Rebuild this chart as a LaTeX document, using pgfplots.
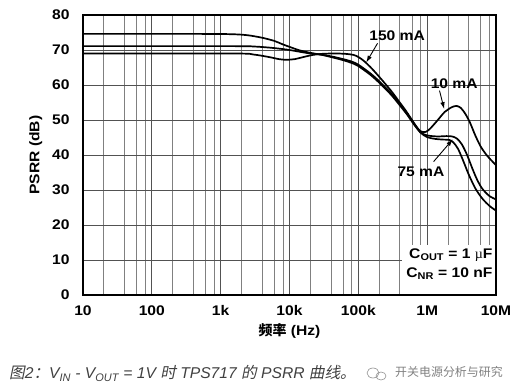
\documentclass[border=0pt]{standalone}
\usepackage{fontspec}
\setmainfont{Liberation Sans}[FakeStretch=1.12]
\newfontfamily\cjk{Noto Sans CJK SC}
\newfontfamily\cjkit{Noto Sans CJK SC}[FakeSlant=0.2]
\newfontfamily\capfont{Liberation Sans}
\usepackage{pgfplots}
\pgfplotsset{compat=1.18}
\usetikzlibrary{arrows.meta}
\pgfplotstableread{
f db
10 74.6
500 74.6
1500 74.5
2500 74.2
4000 73.5
6000 72.6
8000 71.6
10000 70.9
14000 69.9
20000 69.2
28000 68.7
40000 68.2
60000 67.4
80000 66.7
100000 65.8
150000 63.3
200000 61.1
300000 57.6
400000 54.6
500000 52.1
650000 48.9
800000 46.8
950000 46.6
1100000 47.5
1400000 49.8
1800000 52.3
2300000 53.7
2700000 54.0
3100000 53.4
3600000 51.7
4200000 49.2
5000000 45.6
6000000 42.4
7500000 39.7
10000000 37.1
}\tenmA
\pgfplotstableread{
f db
10 71.1
1500 71.1
3000 71.0
5000 70.7
7000 70.4
10000 70.0
15000 69.4
20000 69.0
28000 68.7
40000 68.0
60000 67.1
80000 66.3
100000 65.4
150000 62.9
200000 60.7
300000 57.2
400000 54.2
500000 51.8
650000 48.6
800000 46.4
1000000 45.1
1300000 44.6
1700000 44.4
2100000 44.3
2400000 43.6
2800000 41.8
3300000 38.6
4000000 34.5
5000000 30.5
6300000 27.6
8000000 25.5
10000000 24.1
}\sevfivemA
\pgfplotstableread{
f db
10 69.0
1500 69.0
3000 68.7
5000 68.0
7000 67.4
9000 67.2
12000 67.4
16000 68.0
22000 68.6
30000 68.9
45000 69.0
65000 68.9
85000 68.6
100000 68.0
120000 66.9
150000 65.1
200000 62.4
300000 58.3
400000 55.0
500000 52.4
650000 49.0
800000 46.5
1000000 45.6
1400000 45.3
1900000 45.4
2300000 45.3
2700000 44.7
3200000 43.0
3800000 40.0
4500000 36.3
5300000 33.0
6300000 30.4
8000000 28.3
10000000 27.3
}\onefiftymA
\begin{document}
\begin{tikzpicture}
\begin{axis}[name=ax, xmode=log, scale only axis, width=413bp, height=280bp,
  xmin=10, xmax=1e7, ymin=0, ymax=80,
  ytick={0,10,...,80},
  xtick={10,100,1000,10000,100000,1000000,10000000},
  xticklabels={10,100,1k,10k,100k,1M,10M},
  minor xtick={20,40,60,80,200,400,600,800,2000,4000,6000,8000,20000,40000,60000,80000,200000,400000,600000,800000,2000000,4000000,6000000,8000000},
  grid=both,
  major grid style={black!68, line width=0.75bp},
  minor grid style={black!50, line width=0.6bp},
  axis line style={line width=1.4bp},
  tick style={draw=none},
  /pgf/number format/assume math mode=true,
  ticklabel style={font=\bfseries\fontsize{14}{16}\selectfont},
  yticklabel style={xshift=-10bp},
  xticklabel style={yshift=-7bp},
  xlabel={{\cjk\bfseries 频率} (Hz)},
  ylabel={PSRR (dB)},
  label style={font=\bfseries\fontsize{14}{16}\selectfont},
  xlabel style={yshift=-1bp},
  ylabel style={yshift=3bp},
  clip=false,
]
\addplot[black, line width=1.7bp, smooth, tension=0.5] table[x=f,y=db] {\tenmA};
\addplot[black, line width=1.7bp, smooth, tension=0.5] table[x=f,y=db] {\sevfivemA};
\addplot[black, line width=1.7bp, smooth, tension=0.5] table[x=f,y=db] {\onefiftymA};
% annotation box
\fill[white] (rel axis cs:0.772,0.003) rectangle (rel axis cs:0.997,0.179);
\draw[line width=1.4bp] (rel axis cs:0.75,0) -- (rel axis cs:1,0) -- (rel axis cs:1,0.2);
\node[anchor=base east, font=\bfseries\fontsize{14}{16}\selectfont, inner sep=0pt] at (rel axis cs:0.992,0.130) {C\textsubscript{OUT} = 1 {\fontspec{Liberation Serif}\mdseries µ}F};
\node[anchor=base east, font=\bfseries\fontsize{14}{16}\selectfont, inner sep=0pt] at (rel axis cs:0.992,0.062) {C\textsubscript{NR} = 10 nF};
% labels
\node[font=\bfseries\fontsize{14}{16}\selectfont] at (axis cs:366000,74.0) {150 mA};
\node[font=\bfseries\fontsize{14}{16}\selectfont] at (axis cs:2470000,60.4) {10 mA};
\node[font=\bfseries\fontsize{14}{16}\selectfont] at (axis cs:813000,35.2) {75 mA};
\draw[line width=0.9bp, -{Latex[length=7bp,width=4.5bp]}] (axis cs:190000,71.9) -- (axis cs:130000,66.4);
\draw[line width=0.9bp, -{Latex[length=7bp,width=4.5bp]}] (axis cs:1510000,58.4) -- (axis cs:1770000,53.1);
\draw[line width=0.9bp, -{Latex[length=7bp,width=4.5bp]}] (axis cs:1240000,38.1) -- (axis cs:2360000,44.5);
\end{axis}
% caption
\node[anchor=base west, inner sep=0pt, text=black!75, font=\capfont\itshape\fontsize{15.7}{18}\selectfont] at ([shift={(-74bp,-84bp)}]ax.south west)
  {{\cjkit 图}2{\cjkit ：}V\textsubscript{IN} - V\textsubscript{OUT} = 1V {\cjkit 时} TPS717 {\cjkit 的} PSRR {\cjkit 曲线。}};
% watermark
\begin{scope}[shift={([shift={(290bp,-78bp)}]ax.south west)}, black!45, line width=0.6bp]
\draw (0,0) ellipse (6bp and 5bp);
\draw (8bp,-3bp) ellipse (5bp and 4bp);
\end{scope}
\node[anchor=base west, inner sep=0pt, text=black!50, font=\cjk\fontsize{12}{14}\selectfont] at ([shift={(312bp,-82bp)}]ax.south west) {开关电源分析与研究};
\pgfresetboundingbox
\path[use as bounding box] ([shift={(-83bp,-97bp)}]ax.south west) rectangle ([shift={(23bp,15bp)}]ax.north east);
\end{tikzpicture}
\end{document}
